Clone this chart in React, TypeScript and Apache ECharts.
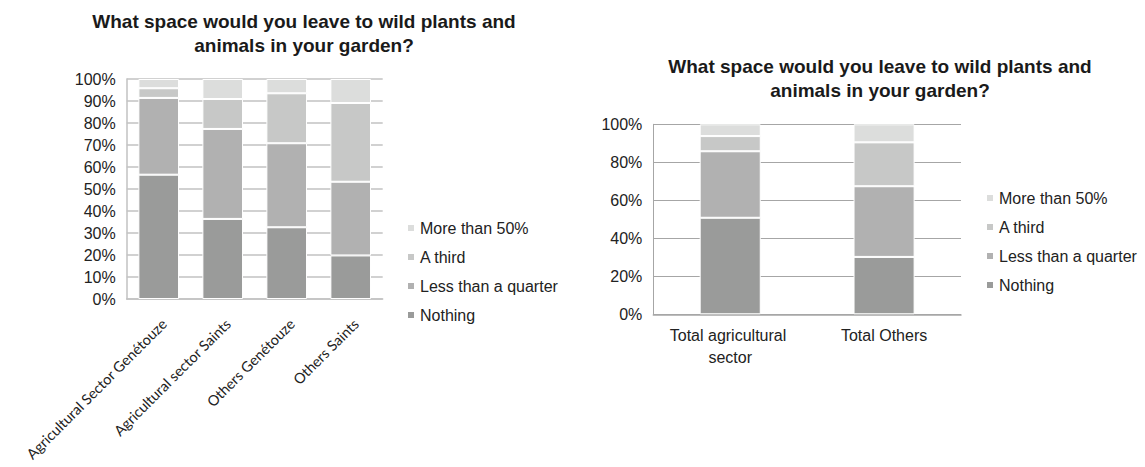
import React, { useEffect, useRef } from "react";
import * as echarts from "echarts";

// Survey question shown above both charts
const chartTitle = "What space would you leave to wild plants and\nanimals in your garden?";

// Answer categories (bottom to top of each stack)
const answers = ["Nothing", "Less than a quarter", "A third", "More than 50%"];
const legendOrder = ["More than 50%", "A third", "Less than a quarter", "Nothing"];
const answerColors = ["#9a9b9a", "#b1b1b1", "#c7c8c7", "#dcdddc"];

// Left chart: by sector and town (percent of respondents)
const groups = [
  "Agricultural Sector Genétouze",
  "Agricultural sector Saints",
  "Others Genétouze",
  "Others Saints",
];
const groupNothing = [56.5, 36.4, 32.6, 19.8];
const groupLessQuarter = [34.9, 40.9, 38.2, 33.5];
const groupThird = [4.4, 13.6, 22.7, 35.8];
const groupMoreHalf = [4.2, 9.1, 6.5, 10.9];

// Right chart: totals (percent of respondents)
const totals = ["Total agricultural sector", "Total Others"];
const totalNothing = [50.8, 30.2];
const totalLessQuarter = [35.0, 37.2];
const totalThird = [8.0, 23.1];
const totalMoreHalf = [6.2, 9.5];

const groupSeries = [groupNothing, groupLessQuarter, groupThird, groupMoreHalf];
const totalSeries = [totalNothing, totalLessQuarter, totalThird, totalMoreHalf];

const FONT = "'Liberation Sans', Arial, Helvetica, sans-serif";

export default function App() {
  const ref = useRef<HTMLDivElement>(null);

  useEffect(() => {
    if (!ref.current) return;
    const chart = echarts.init(ref.current, undefined, { renderer: "svg" });

    const legendBase = {
      orient: "vertical" as const,
      data: legendOrder,
      icon: "rect",
      itemWidth: 8,
      itemHeight: 8,
      itemGap: 13,
      padding: 0,
      selectedMode: false,
      textStyle: { fontFamily: FONT, fontSize: 16, color: "#222", lineHeight: 16 },
    };

    const yAxisBase = {
      type: "value" as const,
      min: 0,
      max: 100,
      axisTick: { show: false },
      axisLabel: {
        fontFamily: FONT,
        fontSize: 16,
        color: "#222",
        margin: 11,
        formatter: (v: number) => `${v}%`,
      },
    };

    const series: any[] = [];
    answers.forEach((name, i) => {
      series.push({
        name,
        type: "bar",
        stack: "left",
        xAxisIndex: 0,
        yAxisIndex: 0,
        barWidth: "63.5%",
        itemStyle: { color: answerColors[i], borderColor: "#ffffff", borderWidth: 1 },
        data: groupSeries[i],
      });
    });
    answers.forEach((name, i) => {
      series.push({
        name,
        type: "bar",
        stack: "right",
        xAxisIndex: 1,
        yAxisIndex: 1,
        barWidth: "39.7%",
        itemStyle: { color: answerColors[i], borderColor: "#ffffff", borderWidth: 1 },
        data: totalSeries[i],
      });
    });

    const titleStyle = {
      text: chartTitle,
      fontFamily: FONT,
      fontSize: 19,
      fontWeight: "bold",
      fill: "#1a1a1a",
      lineHeight: 24,
      align: "center",
      verticalAlign: "middle",
    };

    chart.setOption({
      animation: false,
      backgroundColor: "#ffffff",
      graphic: [
        { type: "text", x: 304, y: 33.5, style: titleStyle },
        { type: "text", x: 880, y: 78, style: titleStyle },
      ],
      legend: [
        { ...legendBase, left: 406, top: 220 },
        { ...legendBase, left: 985, top: 190 },
      ],
      grid: [
        { left: 126.7, right: 762.3, top: 79, bottom: 168, outerBoundsMode: "none" },
        { left: 653.3, right: 184, top: 124.3, bottom: 152.7, outerBoundsMode: "none" },
      ],
      xAxis: [
        {
          type: "category",
          gridIndex: 0,
          data: groups,
          axisTick: { show: false },
          axisLine: { lineStyle: { color: "#c2c2c2", width: 1.5 } },
          axisLabel: {
            interval: 0,
            rotate: 45,
            align: "right",
            verticalAlign: "top",
            margin: 17,
            fontFamily: "Lato, 'Open Sans', sans-serif",
            fontSize: 14.5,
            color: "#222",
          },
        },
        {
          type: "category",
          gridIndex: 1,
          data: totals,
          axisTick: { show: false },
          axisLine: { lineStyle: { color: "#a6a6a6", width: 1.5 } },
          axisLabel: {
            interval: 0,
            margin: 10,
            fontFamily: FONT,
            fontSize: 16,
            lineHeight: 22,
            color: "#222",
            width: 140,
            overflow: "break",
          },
        },
      ],
      yAxis: [
        {
          ...yAxisBase,
          gridIndex: 0,
          interval: 10,
          axisLine: { show: true, lineStyle: { color: "#c2c2c2", width: 1.5 } },
          splitLine: { lineStyle: { color: "#c2c2c2", width: 1.5 } },
        },
        {
          ...yAxisBase,
          gridIndex: 1,
          interval: 20,
          axisLine: { show: true, lineStyle: { color: "#a6a6a6", width: 1 } },
          splitLine: { lineStyle: { color: "#a6a6a6", width: 1 } },
        },
      ],
      series,
    });

    return () => chart.dispose();
  }, []);

  return (
    <div
      ref={ref}
      style={{ position: "fixed", left: 0, top: 0, width: 1145, height: 467 }}
    />
  );
}
